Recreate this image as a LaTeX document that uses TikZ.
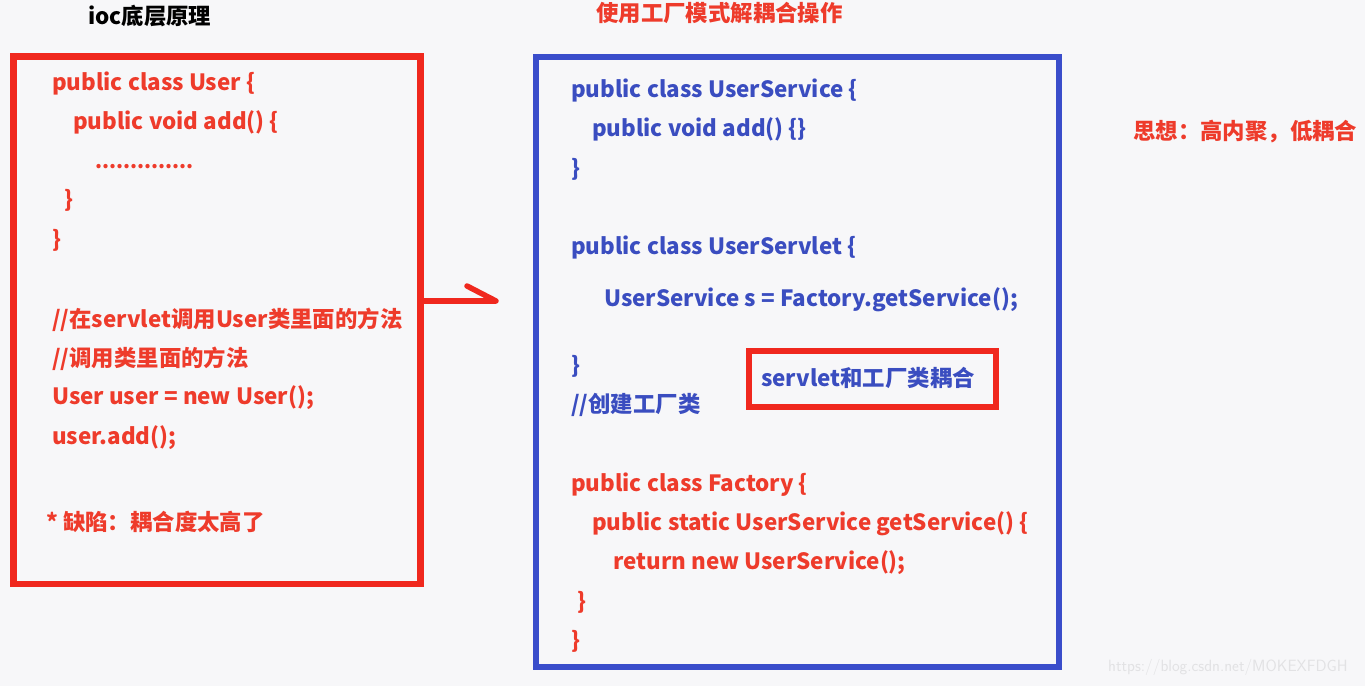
\documentclass[tikz,border=0pt]{standalone}
\usepackage{fontspec}
\setmainfont{Noto Sans CJK SC}
\usetikzlibrary{calc}
\definecolor{bg}{HTML}{F7F7F9}
\definecolor{rbox}{HTML}{F0281E}
\definecolor{rtxt}{HTML}{EE3B2B}
\definecolor{bbox}{HTML}{3A4DCB}
\definecolor{btxt}{HTML}{3A4DC0}
\definecolor{wm}{HTML}{E2E2E4}
\begin{document}
\begin{tikzpicture}[x=1pt,y=-1pt,
  code/.style={anchor=mid west,inner sep=0pt,font=\fontsize{22.4}{26}\selectfont\bfseries},
  rc/.style={code,text=rtxt},
  bc/.style={code,text=btxt},
  frame/.style={draw,inner sep=0pt,outer sep=0pt,fill=none},
]
\fill[bg] (0,0) rectangle (1365,686);
\useasboundingbox (0,0) rectangle (1365,686);

% titles
\node[code,text=black] (t1) at (88,22) {ioc底层原理};
\node[code,text=rtxt] (t2) at (596,19) {使用工厂模式解耦合操作};
\node[code,text=rtxt] (idea) at (1133,137) {思想：高内聚，低耦合};

% left box
\node[frame,draw=rbox,line width=6.5pt,minimum width=407pt,minimum height=527.5pt] (leftbox) at (217,320.25) {};
\node[rc] (l1) at (52,88) {public class User \{};
\node[rc] (l2) at (73,127) {public void add() \{};
\node[rc,font=\fontsize{20}{24}\selectfont\bfseries] (l3) at (95,166) {..............};
\node[rc] (l4) at (64,205) {\}};
\node[rc] (l5) at (52,245) {\}};
\node[rc] (l6) at (52,325) {//在servlet调用User类里面的方法};
\node[rc] (l7) at (52,364) {//调用类里面的方法};
\node[rc] (l8) at (52,402) {User user = new User();};
\node[rc] (l9) at (52,442) {user.add();};
\node[rc] (l10) at (46,528) {* 缺陷：耦合度太高了};

% arrow
\coordinate (tip) at (496,301);
\draw[rbox,line width=5.5pt] (leftbox.east |- tip) -- (tip);
\draw[rbox,line width=5.5pt,line cap=round] (tip) -- ++(-29,-15);

% blue box
\node[frame,draw=bbox,line width=6pt,minimum width=523pt,minimum height=609.5pt] (bluebox) at (797.5,361.75) {};
\node[bc] (r1) at (571,95) {public class UserService \{};
\node[bc] (r2) at (592,134) {public void add() \{\}};
\node[bc] (r3) at (571,174) {\}};
\node[bc] (r4) at (571,252) {public class UserServlet \{};
\node[bc] (r5) at (604,304) {UserService s = Factory.getService();};
\node[bc] (r6) at (571,371) {\}};
\node[bc] (r7) at (571,410) {//创建工厂类};
\node[frame,draw=rbox,line width=6pt,minimum width=247pt,minimum height=56pt] (couple) at (872.5,379) {};
\node[bc] (ct) at (761,384) {servlet和工厂类耦合};
\node[rc] (f1) at (571,489) {public class Factory \{};
\node[rc] (f2) at (592,528) {public static UserService getService() \{};
\node[rc] (f3) at (613,567) {return new UserService();};
\node[rc] (f4) at (577,607) {\}};
\node[rc] (f5) at (571,646) {\}};

% watermark
\node[anchor=mid west,inner sep=0pt,text=wm,font=\fontsize{16.3}{19}\selectfont\sffamily] (wmk) at (1108,669) {https://blog.csdn.net/MOKEXFDGH};
\end{tikzpicture}
\end{document}
